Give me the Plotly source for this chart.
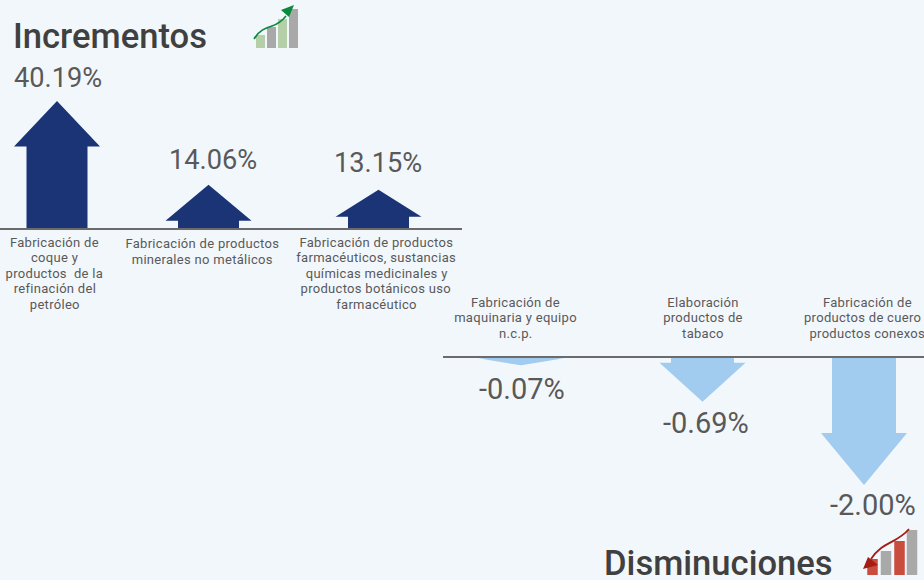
import plotly.graph_objects as go

# ---- data ----
up_labels = ["Fabricación de<br>coque y<br>productos  de la<br>refinación del<br>petróleo",
             "Fabricación de productos<br>minerales no metálicos",
             "Fabricación de productos<br>farmacéuticos, sustancias<br>químicas medicinales y<br>productos botánicos uso<br>farmacéutico"]
up_values = [40.19, 14.06, 13.15]
up_drawn = [40.19, 13.9, 12.3]      # drawn arrow lengths, as seen in the picture
down_labels = ["Fabricación de<br>maquinaria y equipo<br>n.c.p.",
               "Elaboración<br>productos de<br>tabaco",
               "Fabricación de<br>productos de cuero y<br>productos conexos"]
down_values = [-0.07, -0.69, -2.00]
down_drawn = [-0.13, -0.70, -2.00]  # drawn arrow lengths, as seen in the picture
icon_up_heights = [13, 21, 29, 39]
icon_down_heights = [16, 24, 34, 45]

# ---- layout geometry (pixels) ----
W, H = 924, 580
BG = "#F2F7FC"
NAVY, SKY = "#1A3476", "#A1CBEF"
TXT, TITLE = "#595959", "#404040"
up_zero, up_scale = 229, 128 / 40.19
dn_zero, dn_scale = 357, 64
up_x = [57, 208.5, 378.5]
dn_x = [521, 702.5, 864]
up_head = [45.5, 36, 27]
dn_head = [7, 39, 52]
head_half = 43
shaft_half = [30.5, 30.5, 30.5]
up_label_pos = [(54.5, 242), (202, 243.5), (376, 242)]
dn_label_pos = [(515.5, 302), (703, 302), (867.5, 302)]
LINE_STEP = 15.5
up_val_pos = [(58, 78), (213, 160), (378, 163)]
dn_val_pos = [(522, 389), (706, 423), (872.5, 505)]

fig = go.Figure()

def arrow(cx, length, head_px, shaft, scale):
    sign = 1 if length > 0 else -1
    head = sign * head_px / scale
    base = length - head
    xs = [cx - shaft, cx - shaft, cx - head_half, cx, cx + head_half, cx + shaft, cx + shaft, cx - shaft]
    ys = [0, base, base, length, base, base, 0, 0]
    return xs, ys

for i, v in enumerate(up_drawn):
    xs, ys = arrow(up_x[i], v, up_head[i], shaft_half[i], up_scale)
    fig.add_trace(go.Scatter(x=xs, y=ys, yaxis="y", mode="lines", fill="toself", fillcolor=NAVY,
                             line=dict(width=0), hoverinfo="skip", showlegend=False))
for i, v in enumerate(down_drawn):
    sh = [37, 31.5, 32][i]
    xs, ys = arrow(dn_x[i], v, dn_head[i], sh, dn_scale)
    fig.add_trace(go.Scatter(x=xs, y=ys, yaxis="y2", mode="lines", fill="toself", fillcolor=SKY,
                             line=dict(width=0), hoverinfo="skip", showlegend=False))

# baselines
fig.add_trace(go.Scatter(x=[0, 462], y=[0, 0], yaxis="y", mode="lines",
                         line=dict(color="#6B6B6B", width=2), hoverinfo="skip", showlegend=False))
fig.add_trace(go.Scatter(x=[443, 924], y=[0, 0], yaxis="y2", mode="lines",
                         line=dict(color="#6B6B6B", width=2), hoverinfo="skip", showlegend=False))

# icons
fig.add_trace(go.Bar(x=[260.5, 271.5, 282.5, 293.5], y=[-h for h in icon_up_heights], base=48, width=9,
                     yaxis="y3", marker=dict(color=["#B5CFA8", "#A9A9A9", "#B5CFA8", "#A9A9A9"], line=dict(width=0)),
                     hoverinfo="skip", showlegend=False))
fig.add_trace(go.Bar(x=[872.5, 886, 899.5, 912], y=[-h for h in icon_down_heights], base=575, width=10.5,
                     yaxis="y3", marker=dict(color=["#C94C3F", "#A9A9A9", "#C94C3F", "#A9A9A9"], line=dict(width=0)),
                     hoverinfo="skip", showlegend=False))

shapes = [
    dict(type="path", xref="x", yref="y3", path="M254,39 C259,30 266,28 272,26 C278,24 282,21 286,16",
         line=dict(color="#0A8A3C", width=1.6), layer="above"),
    dict(type="path", xref="x", yref="y3", path="M294,5 L281,10 L289,17 Z",
         fillcolor="#0A8A3C", line=dict(width=0), layer="above"),
    dict(type="path", xref="x", yref="y3", path="M909,529 C900,540 888,542 880,549 C876,552 873,556 871,559",
         line=dict(color="#A51C15", width=1.8), layer="above"),
    dict(type="path", xref="x", yref="y3", path="M863,569 L868,557 L878,565 Z",
         fillcolor="#A51C15", line=dict(width=0), layer="above"),
]

ann = []
def text(x, y, s, size, color, anchor="center", yanchor="middle", weight=None):
    ann.append(dict(x=x, y=y, xref="x", yref="y3", text=s, showarrow=False, xanchor=anchor, yanchor=yanchor,
                    align="center", font=dict(family="Roboto", size=size, color=color, weight=weight)))

text(10.5, 36, "Incrementos", 34.6, TITLE, anchor="left", weight=500)
text(601.5, 563, "Disminuciones", 34.6, TITLE, anchor="left", weight=500)
for (x, y), v in zip(up_val_pos, up_values):
    text(x, y, f"{v:.2f}%", 27.2, TXT)
for (x, y), v in zip(dn_val_pos, down_values):
    text(x, y, f"{v:.2f}%", 29, TXT)
for (x, y), s in zip(up_label_pos + dn_label_pos, up_labels + down_labels):
    for k, line in enumerate(s.split("<br>")):
        text(x, y + k * LINE_STEP, line, 13, TXT)

hidden = dict(visible=False, showgrid=False, zeroline=False, fixedrange=True)
fig.update_layout(
    width=W, height=H, autosize=False,
    margin=dict(l=0, r=0, t=0, b=0),
    paper_bgcolor=BG, plot_bgcolor=BG, barmode="overlay",
    xaxis=dict(range=[0, W], **hidden),
    yaxis=dict(range=[-(H - up_zero) / up_scale, up_zero / up_scale], **hidden),
    yaxis2=dict(range=[-(H - dn_zero) / dn_scale, dn_zero / dn_scale], overlaying="y", **hidden),
    yaxis3=dict(range=[H, 0], overlaying="y", **hidden),
    shapes=shapes, annotations=ann, showlegend=False,
)
fig.write_html("out.html", config={"displayModeBar": False},
               post_script="document.body.style.margin='0';document.documentElement.style.overflow='hidden';"
                           "document.querySelectorAll('.annotation-text').forEach(function(t){"
                           "if(parseFloat(t.style.fontSize)<20){t.style.letterSpacing='0.3px';}});")
